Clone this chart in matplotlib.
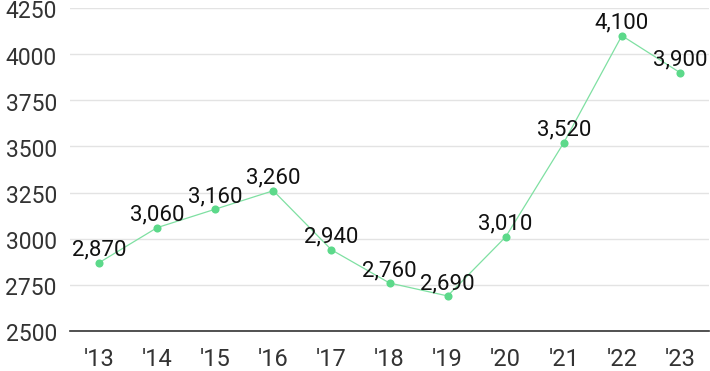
import matplotlib
matplotlib.use("Agg")
import matplotlib.pyplot as plt

# data
years = ["'13", "'14", "'15", "'16", "'17", "'18", "'19", "'20", "'21", "'22", "'23"]
values = [2870, 3060, 3160, 3260, 2940, 2760, 2690, 3010, 3520, 4100, 3900]
y_ticks = [2500, 2750, 3000, 3250, 3500, 3750, 4000, 4250]

plt.rcParams["font.family"] = ["Roboto", "DejaVu Sans"]

fig = plt.figure(figsize=(7.1, 3.71), dpi=100)
ax = fig.add_axes([70 / 710, 40 / 371, 639 / 710, 323 / 371])

x = list(range(len(years)))
ax.plot(x, values, color="#7fe0a2", linewidth=0.9, zorder=2)
ax.scatter(x, values, s=34, color="#5cd98a", zorder=3, linewidths=0)

for xi, v in zip(x, values):
    ax.annotate(f"{v:,}", (xi, v), xytext=(0, 5), textcoords="offset points",
                ha="center", va="baseline", fontsize=16, color="#111111", zorder=4)

ax.set_xlim(-0.5, len(years) - 0.5)
ax.set_ylim(2500, 4250)
ax.set_yticks(y_ticks)
ax.set_yticklabels([])
ax.set_xticks(x)
ax.set_xticklabels(years)

# y labels as plain text, nudged a bit below the grid line like the original
for t in y_ticks:
    ax.annotate(str(t), (0, t), xycoords=("axes fraction", "data"),
                xytext=(-9.5, -7.5), textcoords="offset points",
                ha="right", va="baseline", fontsize=16.5, color="#333333",
                annotation_clip=False)

ax.grid(axis="y", color="#e3e3e3", linewidth=1)
ax.set_axisbelow(True)
for side in ["top", "right", "left"]:
    ax.spines[side].set_visible(False)
ax.spines["bottom"].set_color("#333333")
ax.spines["bottom"].set_linewidth(1.2)
ax.spines["bottom"].set_zorder(5)

ax.tick_params(axis="both", length=0, labelsize=17, labelcolor="#333333")
ax.tick_params(axis="x", pad=12)

plt.savefig("out.png", dpi=100)
